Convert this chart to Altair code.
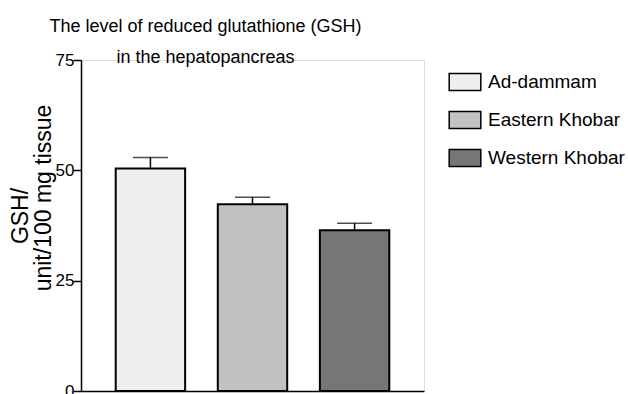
import altair as alt
import pandas as pd

# GSH level (unit/100 mg tissue) by sampling site, mean and error
regions = ["Ad-dammam", "Eastern Khobar", "Western Khobar"]
gsh_mean = [50.4, 42.3, 36.4]
gsh_err = [2.5, 1.6, 1.6]
fills = ["#efefef", "#c2c2c2", "#767676"]

axis_title_lines = ["GSH/", "unit/100 mg tissue"]
chart_title = ["The level of reduced glutathione (GSH)", "in the hepatopancreas"]
y_ticks = [0, 25, 50, 75]

df = pd.DataFrame({"region": regions, "gsh": gsh_mean, "err": gsh_err})

SANS = "Liberation Sans, Arial, sans-serif"

x_enc = alt.X(
    "region:N",
    sort=regions,
    scale=alt.Scale(paddingInner=0.32, paddingOuter=0.34),
    axis=alt.Axis(title=None, labels=False, ticks=False, domainColor="black", domainWidth=1.5),
)
y_scale = alt.Scale(domain=[0, 75], nice=False, zero=True)

bars = alt.Chart(df).mark_bar(stroke="black", strokeWidth=2).encode(
    x=x_enc,
    y=alt.Y(
        "gsh:Q",
        scale=y_scale,
        axis=alt.Axis(
            values=y_ticks,
            title=None,
            grid=False,
            domainColor="black",
            domainWidth=1.5,
            tickColor="black",
            tickWidth=1.5,
            tickSize=8,
            labelPadding=-1,
            labelFont=SANS,
            labelFontSize=17,
            labelColor="black",
        ),
    ),
    fill=alt.Fill(
        "region:N",
        scale=alt.Scale(domain=regions, range=fills),
        legend=alt.Legend(
            title=None,
            orient="none",
            legendX=367,
            legendY=5,
            padding=0,
            symbolType="M-1,-0.53H1V0.53H-1Z",
            symbolSize=1000,
            symbolStrokeColor="black",
            symbolStrokeWidth=1.5,
            labelFont=SANS,
            labelFontSize=19,
            labelColor="black",
            labelOffset=6,
            rowPadding=9,
        ),
    ),
)

stem = (
    alt.Chart(df)
    .transform_calculate(upper="datum.gsh + datum.err")
    .mark_rule(color="black", strokeWidth=1.5)
    .encode(x=x_enc, y=alt.Y("gsh:Q", scale=y_scale), y2="upper:Q")
)
cap = (
    alt.Chart(df)
    .transform_calculate(upper="datum.gsh + datum.err")
    .mark_tick(color="black", thickness=1.5, size=35, orient="horizontal")
    .encode(x=x_enc, y=alt.Y("upper:Q", scale=y_scale))
)

ytitle1 = alt.Chart(pd.DataFrame({"t": [axis_title_lines[0]]})).mark_text(
    angle=270, align="center", baseline="middle", font=SANS, fontSize=23, color="black"
).encode(text="t:N", x=alt.value(-60), y=alt.value(156))
ytitle2 = alt.Chart(pd.DataFrame({"t": [axis_title_lines[1]]})).mark_text(
    angle=270, align="center", baseline="middle", font=SANS, fontSize=23, color="black"
).encode(text="t:N", x=alt.value(-37), y=alt.value(138))

chart = (
    alt.layer(stem, cap, bars, ytitle1, ytitle2)
    .properties(
        width=343,
        height=331,
        padding={"left": 81, "top": 60, "right": 204, "bottom": 3},
        autosize=alt.AutoSizeParams(type="none"),
        title=alt.TitleParams(
            text=chart_title,
            font=SANS,
            fontSize=18,
            fontWeight="normal",
            color="black",
            anchor="middle",
            dx=-47,
            dy=38,
            baseline="bottom",
            offset=4,
            lineHeight=31,
        ),
    )
    .configure_view(stroke=None)
    .configure_axis(grid=False)
    .configure(background="white")
)

chart.save("out.html", embed_options={"renderer": "svg", "actions": False})
